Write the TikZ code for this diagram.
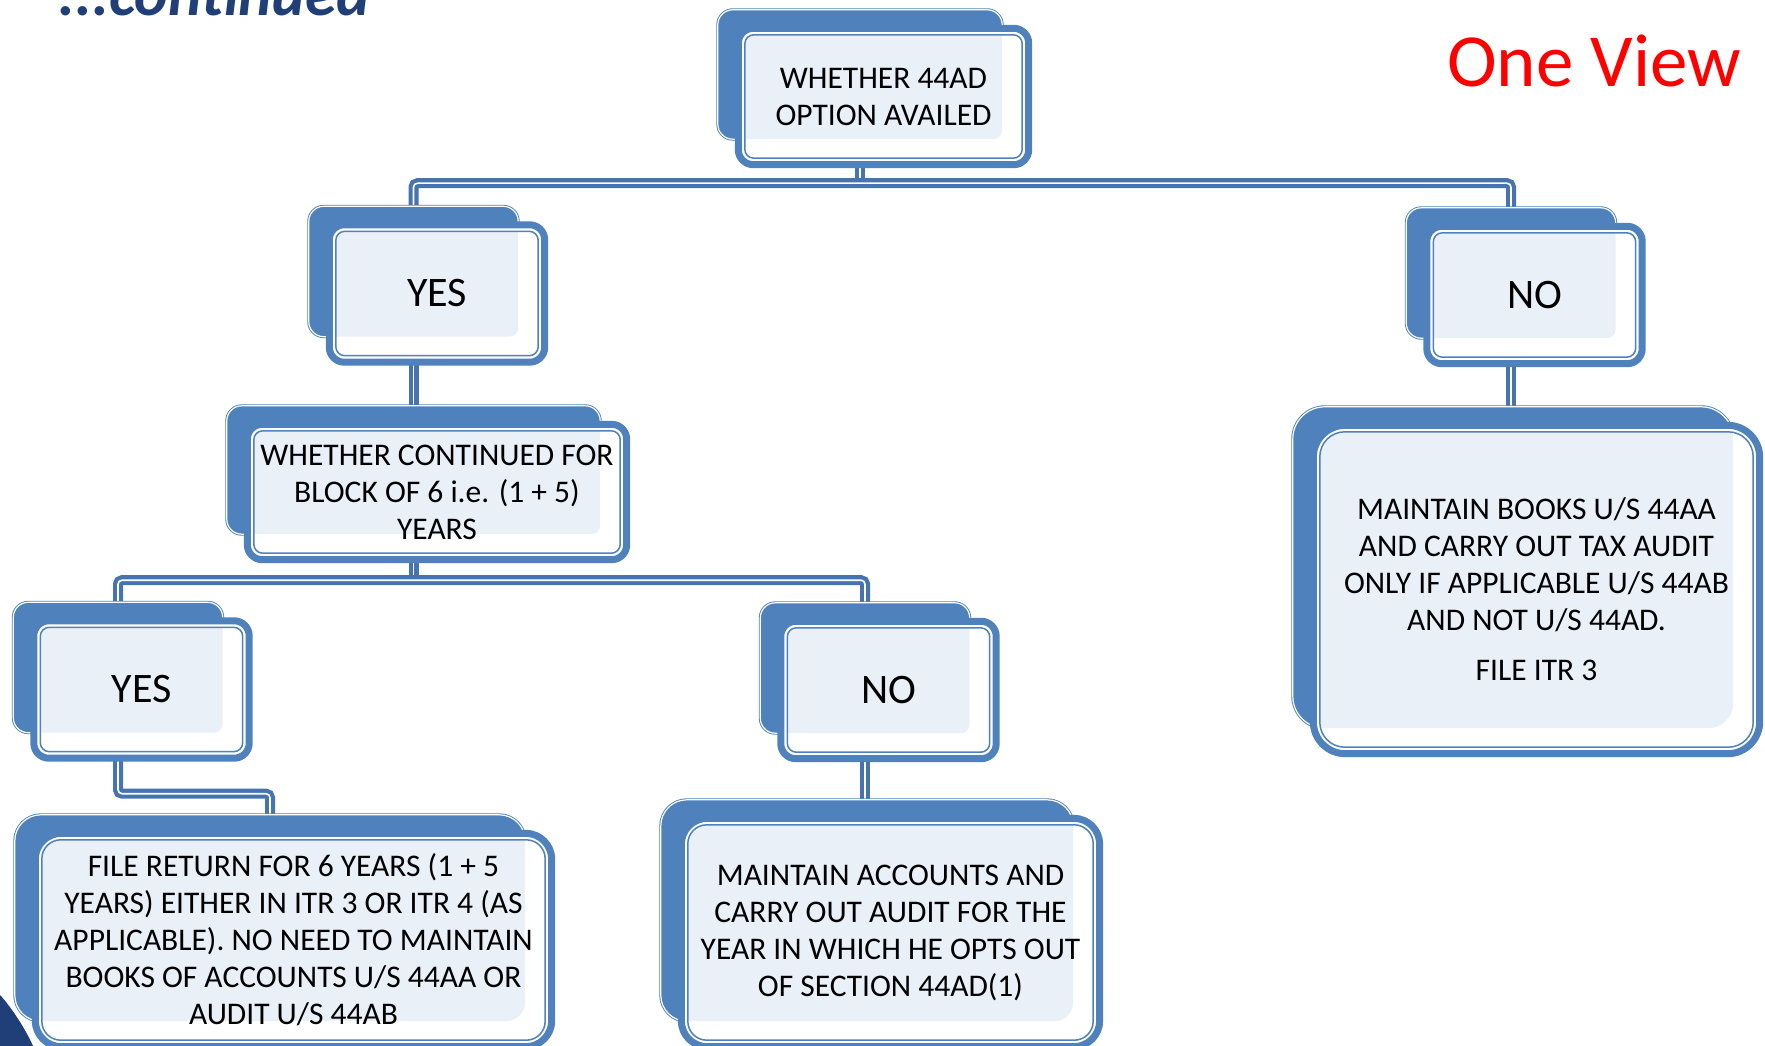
\documentclass[tikz,border=0pt]{standalone}
\usepackage{fontspec}
\setmainfont{Carlito}
\usetikzlibrary{backgrounds,calc}

\definecolor{boxblue}{HTML}{4F81BD}
\definecolor{linkblue}{HTML}{4674AE}
\definecolor{tint}{HTML}{EAF0F8}
\definecolor{navy}{HTML}{203F78}

\begin{document}
\begin{tikzpicture}[x=1pt,y=-1pt]
\tikzstyle{every node}=[font=\fontsize{31.5}{37}\selectfont, inner sep=0pt, align=center]
\tikzstyle{answer}=[minimum width=222pt, minimum height=144pt, font=\fontsize{42}{48}\selectfont]
\tikzstyle{link}=[draw=linkblue, line width=4.2pt, double=white, double distance=1.6pt, rounded corners=4pt]
\tikzstyle{backbox}=[fill=boxblue, draw=boxblue, line width=0.9pt, double=white, double distance=1.2pt]
\tikzstyle{rim}=[fill=white, draw=boxblue, line width=7pt]
\tikzstyle{inrim}=[draw=boxblue, line width=1.5pt]

% page size
\useasboundingbox (0,0) rectangle (1765,1046);

% headings
\begin{scope}
\clip (0,0) rectangle (1765,1046);
\node[text=navy, font=\fontsize{63.5}{70}\selectfont\bfseries\itshape, anchor=base west] (more) at (58,16) {...continued};
\end{scope}
\node[text=red, font=\fontsize{75}{90}\selectfont, anchor=base west] (view) at (1447,87) {One View};

% decision boxes
\node (q) at (883.5,96.5) [minimum width=297pt, minimum height=143pt] {WHETHER 44AD\\OPTION AVAILED};
\node[answer] (y1) at (437,293.5) {YES};
\node[answer] (n1) at (1534.5,295) {NO};
\node (cont) at (437,492) [minimum width=386pt, minimum height=142pt] {WHETHER CONTINUED FOR\\BLOCK OF 6 i.e. (1 + 5)\\YEARS};
\node[answer] (y2) at (141.5,689.5) {YES};
\node[answer] (n2) at (888.5,690) {NO};

% outcome boxes
\node (ret) at (293.5,940) [minimum width=523pt, minimum height=220pt] {FILE RETURN FOR 6 YEARS (1 + 5\\YEARS) EITHER IN ITR 3 OR ITR 4 (AS\\APPLICABLE). NO NEED TO MAINTAIN\\BOOKS OF ACCOUNTS U/S 44AA OR\\AUDIT U/S 44AB};
\node (sec) at (890.5,932.5) [minimum width=425pt, minimum height=235pt] {MAINTAIN ACCOUNTS AND\\CARRY OUT AUDIT FOR THE\\YEAR IN WHICH HE OPTS OUT\\OF SECTION 44AD(1)};
\node (itr) at (1536.5,589.5) [minimum width=453pt, minimum height=335pt] {MAINTAIN BOOKS U/S 44AA\\AND CARRY OUT TAX AUDIT\\ONLY IF APPLICABLE U/S 44AB\\AND NOT U/S 44AD.\\[13pt]FILE ITR 3};

% centre of the shadow box behind each one
\foreach \n in {q,y1,n1,cont,y2,n2,ret,sec,itr}
	\coordinate (\n-b) at ($(\n.center)+(-23.5,-22)$);
\coordinate (bar1) at ($(q-b |- q.south)+(0,15)$);
\coordinate (bar2) at ($(cont-b |- cont.south)+(0,17)$);
\coordinate (bend) at ($(y2-b |- y2.south)+(0,32)$);

\begin{pgfonlayer}{background}
% slide corner
\fill[navy] (0,995) .. controls (12,1008) and (26,1030) .. (33,1046) -- (0,1046) -- cycle;

% connectors
\draw[link] (q-b) -- (bar1);
\draw[link] (y1-b) |- (bar1) -| (n1-b);
\draw[link] (y1-b) -- (cont-b);
\draw[link] (n1-b) -- (n1-b |- itr-b);
\draw[link] (cont-b) -- (bar2);
\draw[link] (y2-b) |- (bar2) -| (n2-b);
\draw[link] (y2-b) -- (bend) -| (ret-b);
\draw[link] (n2-b) -- (n2-b |- sec-b);

% boxes: shadow, rim, tint, inner line
\foreach \n/\r/\s in {q/15/9,y1/15/9,n1/15/9,cont/15/9,y2/15/9,n2/15/9,ret/26/19,sec/26/19,itr/32/25} {
	\draw[backbox, rounded corners=\r] ([shift={(-17,-15)}]\n.north west) rectangle ([shift={(-30,-29)}]\n.south east);
	\draw[rim, rounded corners=\r] ([shift={(3.5,3.5)}]\n.north west) rectangle ([shift={(-3.5,-3.5)}]\n.south east);
	\begin{scope}
	\clip[rounded corners=\s] ([shift={(10,10)}]\n.north west) rectangle ([shift={(-10,-10)}]\n.south east);
	\fill[tint, rounded corners=\s] ([shift={(-17,-15)}]\n.north west) rectangle ([shift={(-30,-29)}]\n.south east);
	\end{scope}
	\draw[inrim, rounded corners=\s] ([shift={(10,10)}]\n.north west) rectangle ([shift={(-10,-10)}]\n.south east);
}
\end{pgfonlayer}

\end{tikzpicture}
\end{document}
